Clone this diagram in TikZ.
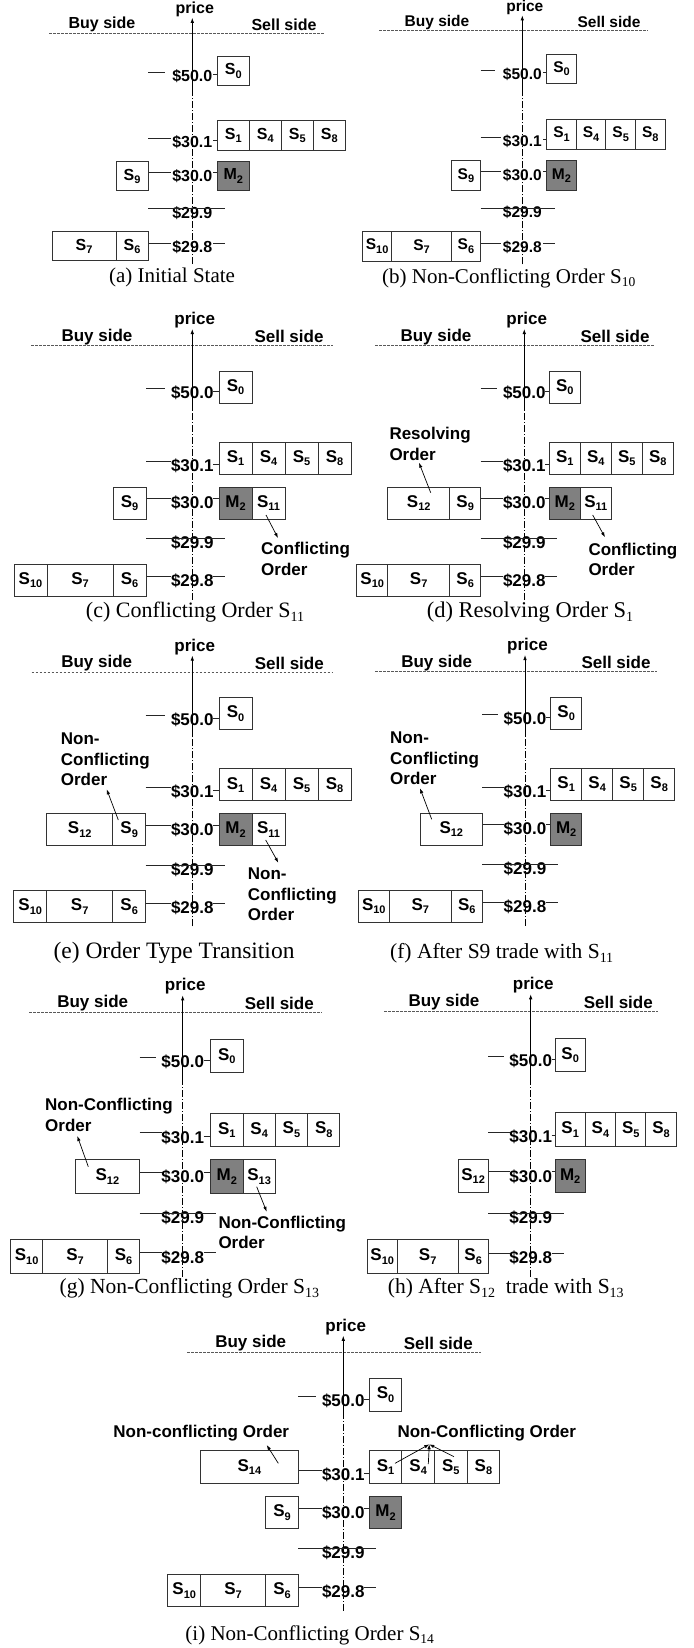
\documentclass[tikz,border=0pt]{standalone}
\usepackage{fontspec}
\setmainfont{Liberation Serif}
\setsansfont{Liberation Sans}
\usetikzlibrary{arrows.meta}

\newcommand\Sb[2]{#1\raisebox{-3.5pt}{\fontsize{11}{11}\selectfont #2}}
\newcommand\Cs[2]{S\raisebox{-0.18em}{\fontsize{#1}{#1}\selectfont #2}}

\newcommand\PanelSet[8]{\def\pn{#1}\def\pX{#2}\def\pY{#3}\def\psy{#4}\def\pa{#5}\def\pu{#6}\def\pb{#7}\def\pfs{#8}}
\newcommand\PanelDeco[4]{\def\pdl{#1}\def\pdr{#2}\def\pbuy{#3}\def\psell{#4}}

\tikzset{
  lbl/.style={font=\sffamily\bfseries\fontsize{\pfs}{\pfs}\selectfont, inner sep=0pt},
  box/.style={draw=black!80, line width=0.9pt, fill=white, inner sep=0pt,
    minimum width={\pu}, minimum height={32*\psy},
    font=\sffamily\bfseries\fontsize{\pfs}{\pfs}\selectfont},
  wbox/.style={box, minimum width={2*\pu}},
  wwbox/.style={box, minimum width={3*\pu}},
  mbox/.style={box, fill=black!50},
  sepline/.style={draw=black!65, line width=0.8pt, dash pattern=on 2.5pt off 1.5pt},
  axisline/.style={line width=0.8pt, -{Latex[length=5pt,width=3.5pt]}},
  axisdash/.style={line width=0.8pt, dash pattern=on 7pt off 2pt on 1pt off 2pt},
  tick/.style={line width=0.8pt, draw=black!85},
  note/.style={font=\sffamily\bfseries\fontsize{17}{20.5}\selectfont, align=left, inner sep=0pt},
  notearr/.style={line width=0.7pt, -{Latex[length=5pt,width=3.5pt]}},
  capt/.style={font=\fontsize{#1}{#1}\selectfont, inner sep=0pt}
}

\newcommand\PanelOpen{%
\begin{scope}[shift={(\pX,\pY)},yscale=\psy]
  \node[lbl] (\pn-price) at (2.5,-25.7) {price};
  \node[lbl] (\pn-buy) at (\pbuy,-9) {Buy side};
  \node[lbl] (\pn-sell) at (\psell,-9) {Sell side};
  \coordinate (\pn-dl) at (\pdl,0);
  \coordinate (\pn-dr) at (\pdr,0);
  \draw[sepline] (\pn-dl) -- (\pn-dr);
  \coordinate (\pn-top) at (0,-16.7);
  \coordinate (\pn-mid) at (0,64);
  \coordinate (\pn-bot) at (0,254);
  \draw[axisdash] (\pn-bot) -- (\pn-mid);
  \draw[axisline] (\pn-mid) -- (\pn-top);
  \node[lbl] (\pn-p50) at (0,47.3) {\$50.0};
  \node[lbl] (\pn-p301) at (0,120) {\$30.1};
  \node[lbl] (\pn-p300) at (0,157.6) {\$30.0};
  \node[lbl] (\pn-p299) at (0,197.6) {\$29.9};
  \node[lbl] (\pn-p298) at (0,235.3) {\$29.8};
  \draw[tick] (-\pb,42.8) coordinate (\pn-t1) -- (-27,42.8) coordinate (\pn-t2);
  \draw[tick] (21,45.8) coordinate (\pn-t3) -- (\pa,45.8) coordinate (\pn-t4);
  \draw[tick] (-\pb,115.5) coordinate (\pn-t5) -- (-21,115.5) coordinate (\pn-t6);
  \draw[tick] (21,118.5) coordinate (\pn-t7) -- (\pa,118.5) coordinate (\pn-t8);
  \draw[tick] (-\pb,153.1) coordinate (\pn-t9) -- (-21,153.1) coordinate (\pn-t10);
  \draw[tick] (21,153.1) coordinate (\pn-t11) -- (\pa,153.1) coordinate (\pn-t12);
  \draw[tick] (-\pb,193.1) coordinate (\pn-t13) -- (33,193.1) coordinate (\pn-t14);
  \draw[tick] (-\pb,230.8) coordinate (\pn-t15) -- (-21,230.8) coordinate (\pn-t16);
  \draw[tick] (21,230.8) coordinate (\pn-t17) -- (33,230.8) coordinate (\pn-t18);
  \node[box] (\pn-s0) at ({\pa+0.5*\pu},41.5) {\Sb{S}{0}};
  \node[box] (\pn-s1) at ({\pa+0.5*\pu},112.6) {\Sb{S}{1}};
  \node[box] (\pn-s4) at ({\pa+1.5*\pu},112.6) {\Sb{S}{4}};
  \node[box] (\pn-s5) at ({\pa+2.5*\pu},112.6) {\Sb{S}{5}};
  \node[box] (\pn-s8) at ({\pa+3.5*\pu},112.6) {\Sb{S}{8}};
  \node[mbox] (\pn-m2) at ({\pa+0.5*\pu},157.4) {\Sb{M}{2}};
  \node[box] (\pn-s6) at ({-\pb-0.5*\pu},234.4) {\Sb{S}{6}};
  \node[wbox] (\pn-s7) at ({-\pb-2*\pu},234.4) {\Sb{S}{7}};
}

\begin{document}
\begin{tikzpicture}[x=1pt,y=-1pt]
\useasboundingbox (0,0) rectangle (693,1648);
\fill[white] (0,0) rectangle (693,1648);

% ---------- (a)
\PanelSet{a}{192.3}{33}{0.91}{25}{32}{44.3}{16}
\PanelDeco{-143.3}{132.7}{-90.3}{91.7}
\PanelOpen
  \node[box] (a-s9) at ({-\pb-0.5*\pu},157.4) {\Sb{S}{9}};
\end{scope}
\node[capt=21] (a-cap) at (172,277) {(a) Initial State};

% ---------- (b)
\PanelSet{b}{522.3}{30.7}{0.92}{24.4}{29.6}{41.6}{15.5}
\PanelDeco{-143.3}{125.7}{-85.3}{86.7}
\PanelOpen
  \node[box] (b-s9) at ({-\pb-0.5*\pu},157.4) {\Sb{S}{9}};
  \node[box] (b-s10) at ({-\pb-3.5*\pu},234.4) {\Sb{S}{10}};
\end{scope}
\node[capt=21] (b-cap) at (508.7,278) {(b) Non-Conflicting Order \Cs{13.5}{10}};

% ---------- (c)
\PanelSet{c}{192.3}{345.7}{1}{26.7}{33}{46.3}{17}
\PanelDeco{-161.3}{140.7}{-95.3}{96.7}
\PanelOpen
  \node[box] (c-s9) at ({-\pb-0.5*\pu},157.4) {\Sb{S}{9}};
  \node[box] (c-s10) at ({-\pb-3.5*\pu},234.4) {\Sb{S}{10}};
  \node[box] (c-s11) at ({\pa+1.5*\pu},157.4) {\Sb{S}{11}};
\end{scope}
\node[note, anchor=west] (c-n1) at (261,558.7) {Conflicting\\Order};
\coordinate (c-a1s) at (266,515);
\coordinate (c-a1e) at (278,538);
\draw[notearr] (c-a1s) -- (c-a1e);
\node[capt=22] (c-cap) at (195,612) {(c) Conflicting Order \Cs{14}{11}};

% ---------- (d)
\PanelSet{d}{524.3}{345.7}{1}{25}{31}{43.6}{17}
\PanelDeco{-149.3}{130.7}{-88.3}{90.7}
\PanelOpen
  \node[box] (d-s9) at ({-\pb-0.5*\pu},157.4) {\Sb{S}{9}};
  \node[wbox] (d-s12) at ({-\pb-2*\pu},157.4) {\Sb{S}{12}};
  \node[box] (d-s10) at ({-\pb-3.5*\pu},234.4) {\Sb{S}{10}};
  \node[box] (d-s11) at ({\pa+1.5*\pu},157.4) {\Sb{S}{11}};
\end{scope}
\node[note, anchor=west] (d-n1) at (389.3,443.7) {Resolving\\Order};
\coordinate (d-a1s) at (430.7,492.7);
\coordinate (d-a1e) at (419,462.7);
\draw[notearr] (d-a1s) -- (d-a1e);
\node[note, anchor=west] (d-n2) at (588.3,559.3) {Conflicting\\Order};
\coordinate (d-a2s) at (592.7,515);
\coordinate (d-a2e) at (605,537.3);
\draw[notearr] (d-a2s) -- (d-a2e);
\node[capt=22.5] (d-cap) at (530,612) {(d) Resolving Order \Cs{14}{1}};

% ---------- (e)
\PanelSet{e}{192.3}{672.3}{1}{26.7}{33}{46.6}{17}
\PanelDeco{-160.6}{141}{-95.6}{97}
\PanelOpen
  \node[box] (e-s9) at ({-\pb-0.5*\pu},157.4) {\Sb{S}{9}};
  \node[wbox] (e-s12) at ({-\pb-2*\pu},157.4) {\Sb{S}{12}};
  \node[box] (e-s10) at ({-\pb-3.5*\pu},234.4) {\Sb{S}{10}};
  \node[box] (e-s11) at ({\pa+1.5*\pu},157.4) {\Sb{S}{11}};
\end{scope}
\node[note, anchor=west] (e-n1) at (60.7,759.3) {Non-\\Conflicting\\Order};
\coordinate (e-a1s) at (118.3,820);
\coordinate (e-a1e) at (106.7,789.3);
\draw[notearr] (e-a1s) -- (e-a1e);
\node[note, anchor=west] (e-n2) at (247.7,894.3) {Non-\\Conflicting\\Order};
\coordinate (e-a2s) at (265.7,840);
\coordinate (e-a2e) at (278.3,862.7);
\draw[notearr] (e-a2s) -- (e-a2e);
\node[capt=23.5] (e-cap) at (174,952.7) {(e) Order Type Transition};

% ---------- (f)
\PanelSet{f}{525}{671.7}{1}{25.7}{31}{42.7}{17}
\PanelDeco{-150}{131.7}{-88.3}{91}
\PanelOpen
  \node[wbox] (f-s12) at ({-\pb-\pu},157.4) {\Sb{S}{12}};
  \node[box] (f-s10) at ({-\pb-3.5*\pu},234.4) {\Sb{S}{10}};
\end{scope}
\node[note, anchor=west] (f-n1) at (390,758.3) {Non-\\Conflicting\\Order};
\coordinate (f-a1s) at (431.7,819.3);
\coordinate (f-a1e) at (420,788.3);
\draw[notearr] (f-a1s) -- (f-a1e);
\node[capt=21.5] (f-cap) at (501.7,953.3) {(f) After S9 trade with \Cs{14}{11}};

% ---------- (g)
\PanelSet{g}{182.7}{1012.7}{1.04}{28}{32.3}{43}{17}
\PanelDeco{-153.4}{139}{-90}{96.6}
\PanelOpen
  \node[wbox] (g-s12) at ({-\pb-\pu},157.4) {\Sb{S}{12}};
  \node[box] (g-s10) at ({-\pb-3.5*\pu},234.4) {\Sb{S}{10}};
  \node[box] (g-s13) at ({\pa+1.5*\pu},157.4) {\Sb{S}{13}};
\end{scope}
\node[note, anchor=west] (g-n1) at (45,1115) {Non-Conflicting\\Order};
\coordinate (g-a1s) at (88.3,1166.7);
\coordinate (g-a1e) at (77.3,1136);
\draw[notearr] (g-a1s) -- (g-a1e);
\node[note, anchor=west] (g-n2) at (218.3,1232.5) {Non-Conflicting\\Order};
\coordinate (g-a2s) at (256.7,1186.7);
\coordinate (g-a2e) at (266.7,1211.7);
\draw[notearr] (g-a2s) -- (g-a2e);
\node[capt=21.5, anchor=east] (g-cap) at (319.3,1288) {(g) Non-Conflicting Order \Cs{14}{13}};

% ---------- (h)
\PanelSet{h}{530.7}{1011.7}{1.045}{24.3}{30.3}{42.4}{17}
\PanelDeco{-146.4}{127.6}{-86.7}{87.6}
\PanelOpen
  \node[box] (h-s12) at ({-\pb-0.5*\pu},157.4) {\Sb{S}{12}};
  \node[box] (h-s10) at ({-\pb-3.5*\pu},234.4) {\Sb{S}{10}};
\end{scope}
\node[capt=21.5, anchor=west] (h-cap) at (387.7,1288) {(h) After \Cs{14}{12}\ \ trade with \Cs{14}{13}};

% ---------- (i)
\PanelSet{i}{343.3}{1352.7}{1.015}{26}{32.6}{45}{17}
\PanelDeco{-156}{137.4}{-92.6}{95}
\PanelOpen
  \node[wwbox] (i-s14) at ({-\pb-1.5*\pu},112.6) {\Sb{S}{14}};
  \node[box] (i-s9) at ({-\pb-0.5*\pu},157.4) {\Sb{S}{9}};
  \node[box] (i-s10) at ({-\pb-3.5*\pu},234.4) {\Sb{S}{10}};
\end{scope}
\node[note, anchor=east] (i-n1) at (289.3,1433.3) {Non-conflicting Order};
\coordinate (i-a1s) at (278.3,1463.3);
\coordinate (i-a1e) at (266.7,1445);
\draw[notearr] (i-a1s) -- (i-a1e);
\node[note, anchor=west] (i-n2) at (397.3,1433.3) {Non-Conflicting Order};
\coordinate (i-hub) at (429.3,1444.3);
\coordinate (i-a2s) at (395,1463.3);
\coordinate (i-a3s) at (428.3,1464);
\coordinate (i-a4s) at (454,1456.7);
\draw[notearr] (i-a2s) -- (i-hub);
\draw[notearr] (i-a3s) -- (i-hub);
\draw[notearr] (i-a4s) -- (i-hub);
\node[capt=21] (i-cap) at (309.7,1635) {(i) Non-Conflicting Order \Cs{13.5}{14}};

\end{tikzpicture}
\end{document}
